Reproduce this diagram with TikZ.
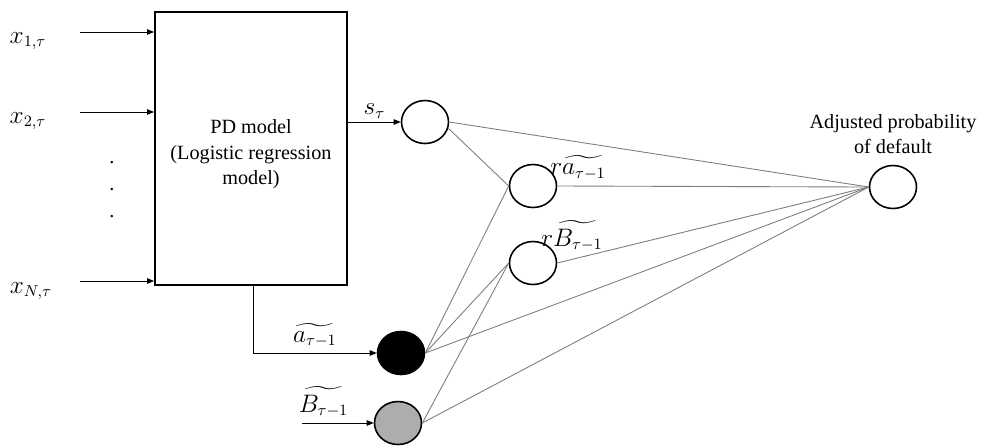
\documentclass[tikz,border=0pt]{standalone}
\usepackage{fontspec}
\setmainfont{Liberation Serif}
\usepackage{amsmath}
\usetikzlibrary{shapes.geometric, arrows.meta, positioning, calc}
\definecolor{linkgray}{RGB}{125,125,125}
\definecolor{unitgray}{RGB}{175,172,172}

\begin{document}
\begin{tikzpicture}[
  font=\fontsize{11.5}{14.5}\selectfont,
  model/.style={rectangle, draw=black, line width=1.1pt, minimum width=3.84cm, minimum height=5.46cm},
  unit/.style={ellipse, draw=black, line width=0.9pt, minimum width=0.94cm, minimum height=0.86cm, inner sep=0pt},
  arr/.style={-{Triangle[length=1.4mm,width=1.1mm]}, line width=0.5pt},
  link/.style={draw=linkgray, line width=0.5pt},
  lbl/.style={inner sep=1pt, font=\fontsize{13.5}{16}\selectfont},
]
  \useasboundingbox (0,0) rectangle (19.74,-8.94);

  % PD model block
  \node[model] (pd) at (5.02,-2.97) {};
  \node[align=center] (pdtxt) at (5.02,-3.09) {PD model\\(Logistic regression\\model)};

  % inputs
  \node[lbl] (x1) at (0.56,-0.82) {$x_{1,\tau}$};
  \node[lbl] (x2) at (0.56,-2.42) {$x_{2,\tau}$};
  \node[lbl] (xN) at (0.62,-5.82) {$x_{N,\tau}$};
  \coordinate (in1) at (1.6,-0.64);
  \coordinate (in2) at (1.6,-2.24);
  \coordinate (inN) at (1.6,-5.62);
  \foreach \c in {in1, in2, inN}
    \draw[arr] (\c) -- (\c -| pd.west);
  \foreach \i/\y in {1/-3.26, 2/-3.8, 3/-4.34}
    \node[inner sep=1pt] (dot\i) at (2.24,\y) {.};

  % units
  \node[unit] (s)  at (8.5,-2.44)  {};
  \node[unit] (ra) at (10.66,-3.72) {};
  \node[unit] (rb) at (10.66,-5.26) {};
  \node[unit, fill=black]    (at) at (8.02,-7.06) {};
  \node[unit, fill=unitgray] (bt) at (7.96,-8.46) {};
  \node[unit] (out) at (17.86,-3.74) {};

  \node[lbl] (ralbl) at (11.56,-3.36) {$r\widetilde{a_{\tau-1}}$};
  \node[lbl] (rblbl) at (11.44,-4.72) {$r\widetilde{B_{\tau-1}}$};
  \node[align=center] (outlbl) at (17.86,-2.68) {Adjusted probability\\of default};

  % feeds into the units
  \draw[arr] (pd.east |- s) -- node[above=1pt, lbl] {$s_\tau$} (s);
  \draw[arr] ([xshift=0.04cm]pd.south) |- node[pos=0.75, above=2pt, lbl] {$\widetilde{a_{\tau-1}}$} (at);
  \coordinate (bin) at (6.04,-8.46);
  \draw[arr] (bin) -- node[pos=0.3, above=2pt, lbl] {$\widetilde{B_{\tau-1}}$} (bt);

  % links
  \draw[link] (s.east) -- (out.west);
  \draw[link] (s.-15) -- (ra.west);
  \draw[link] (ra.east) -- (out.west);
  \draw[link] (rb.east) -- (out.west);
  \foreach \u in {ra, rb, out}
    \draw[link] (at.east) -- (\u.west);
  \foreach \u in {rb, out}
    \draw[link] (bt.east) -- (\u.west);
\end{tikzpicture}
\end{document}
